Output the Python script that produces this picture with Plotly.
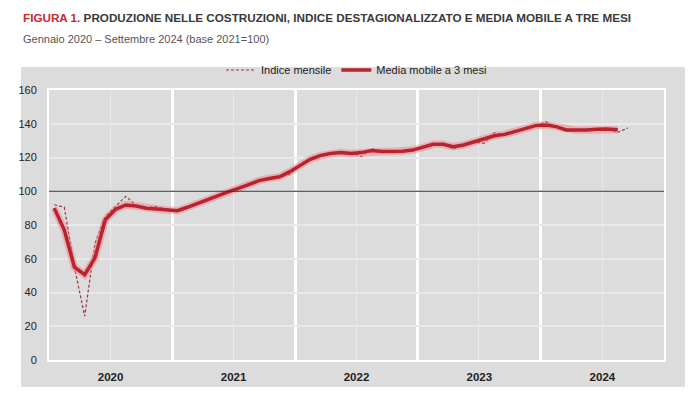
import plotly.graph_objects as go
import pandas as pd

# ---- data ----
months_index = pd.date_range("2020-01-01", "2024-09-01", freq="MS").strftime("%Y-%m-%d").tolist()
months_ma = months_index[:-1]  # centred 3-month average ends in Aug 2024

indice_mensile = [
    92.0, 90.5, 55.0, 26.0, 69.0, 85.0, 91.0, 97.0, 91.5, 90.0, 91.0, 89.0,          # 2020
    88.0, 90.5, 93.0, 95.0, 97.5, 99.5, 101.5, 104.0, 106.5, 107.5, 108.5, 110.0,     # 2021
    116.0, 119.5, 121.5, 122.5, 123.5, 123.0, 120.5, 125.4, 123.0, 123.5, 123.5, 124.5,  # 2022
    126.0, 128.0, 128.4, 124.8, 127.5, 129.5, 128.4, 134.7, 133.5, 135.0, 137.0, 138.5,  # 2023
    141.2, 138.0, 135.5, 136.0, 136.5, 136.5, 137.0, 134.9, 137.5,                     # 2024
]
media_mobile = [
    90.0, 77.0, 55.0, 50.5, 60.5, 83.0, 89.3, 91.9, 91.3, 89.9, 89.5, 88.9,
    88.5, 90.5, 92.8, 95.2, 97.6, 99.6, 101.7, 104.1, 106.3, 107.6, 108.6, 111.6,
    115.6, 118.9, 121.1, 122.4, 123.0, 122.4, 122.9, 124.1, 123.5, 123.5, 123.7, 124.4,
    126.0, 127.8, 127.8, 126.4, 127.4, 129.4, 131.3, 132.9, 133.7, 135.3, 136.9, 138.9,
    139.3, 138.3, 136.3, 136.1, 136.3, 136.7, 136.9, 136.5,
]
BASE = 100
y_ticks = [0, 20, 40, 60, 80, 100, 120, 140, 160]

TITLE_RED = "FIGURA 1."
TITLE = "PRODUZIONE NELLE COSTRUZIONI, INDICE DESTAGIONALIZZATO E MEDIA MOBILE A TRE MESI"
SUBTITLE = "Gennaio 2020 \u2013 Settembre 2024 (base 2021=100)"

FONT = "Liberation Sans, Arial, sans-serif"
PANEL = "#dcdcdc"

fig = go.Figure()

fig.add_trace(go.Scatter(
    x=months_index, y=indice_mensile, mode="lines", name="Indice mensile",
    xperiod="M1", xperiodalignment="middle",
    line=dict(color="#9c3444", width=1.2, dash="3px,2px"),
))
# soft halo of the moving average line
fig.add_trace(go.Scatter(
    x=months_ma, y=media_mobile, mode="lines", showlegend=False, hoverinfo="skip",
    xperiod="M1", xperiodalignment="middle",
    line=dict(color="rgba(240,130,140,0.5)", width=7.5),
))
fig.add_trace(go.Scatter(
    x=months_ma, y=media_mobile, mode="lines", name="Media mobile a 3 mesi",
    xperiod="M1", xperiodalignment="middle",
    line=dict(color="#b8232e", width=3.5),
))

fig.add_hline(y=BASE, line=dict(color="#333333", width=1.2))

# grey panel behind the chart
fig.add_shape(type="rect", xref="paper", yref="paper",
              x0=-0.0455, x1=1.034, y0=-0.1, y1=1.085,
              fillcolor=PANEL, line=dict(width=0), layer="below")

fig.update_layout(
    width=700, height=414,
    margin=dict(l=49, r=36, t=90, b=54),
    paper_bgcolor="white", plot_bgcolor=PANEL,
    font=dict(family=FONT, size=11, color="#222222"),
    showlegend=True,
    legend=dict(orientation="h", x=0.5, xanchor="center", y=1.074, yanchor="middle",
                bgcolor="rgba(0,0,0,0)", font=dict(size=11, color="#222222"),
                itemwidth=30, traceorder="normal"),
    annotations=[
        dict(xref="paper", yref="paper", x=-0.0455, y=1.267, xanchor="left", yanchor="middle",
             showarrow=False,
             text=f"<b><span style='color:#c8262f'>{TITLE_RED}</span> {TITLE}</b>",
             font=dict(family=FONT, size=11.7, color="#3a3a3a")),
        dict(xref="paper", yref="paper", x=-0.0455, y=1.19, xanchor="left", yanchor="middle",
             showarrow=False, text=SUBTITLE,
             font=dict(family=FONT, size=11, color="#555555")),
    ],
)

fig.update_xaxes(
    type="date", range=["2020-01-01", "2025-01-01"],
    tick0="2020-01-01", dtick="M12", ticklabelmode="period", tickformat="%Y",
    showgrid=True, gridcolor="white", gridwidth=2.5,
    minor=dict(tick0="2020-07-01", dtick="M12", showgrid=True, gridcolor="#e9e9e9", gridwidth=1),
    showline=True, linecolor="white", linewidth=2, mirror=True,
    ticks="", ticklabelstandoff=5,
    tickfont=dict(family=FONT, size=11.5, color="#222222", weight="bold"),
    fixedrange=True,
)
fig.update_yaxes(
    range=[0, 160], tickvals=y_ticks,
    showgrid=True, gridcolor="#e9e9e9", gridwidth=1.5,
    zeroline=False, showline=True, linecolor="white", linewidth=2, mirror=True,
    ticks="", ticklabelstandoff=8, tickfont=dict(family=FONT, size=11, color="#222222"),
)

fig.write_html("out.html", config={"displayModeBar": False},
               post_script="document.body.style.margin='0';")
